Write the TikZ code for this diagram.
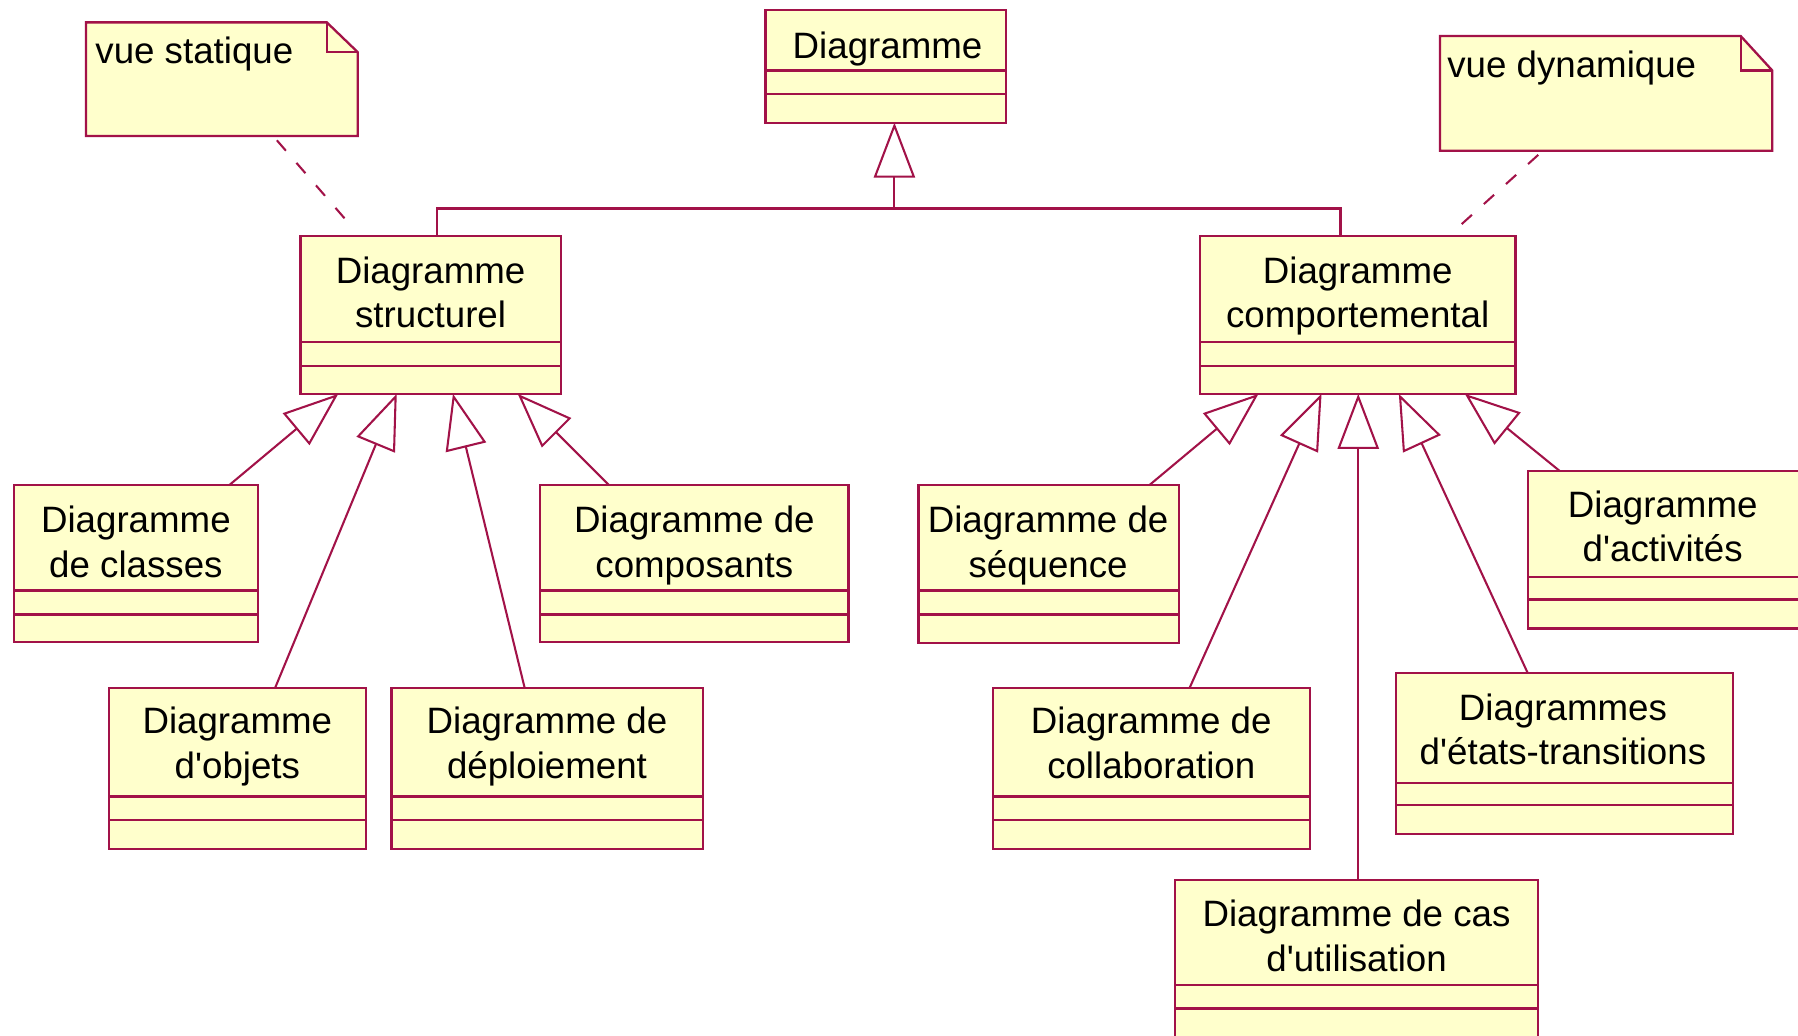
\documentclass[tikz,border=0pt]{standalone}
\usepackage{fontspec}
\newfontfamily\umlfont{Liberation Sans}
\usetikzlibrary{arrows.meta}
\definecolor{umlred}{RGB}{162,18,72}
\definecolor{umlfill}{RGB}{255,255,204}
% two centred lines whose first baseline is the node baseline
\newcommand\twolines[2]{\vtop{\halign{\hfil##\hfil\cr#1\cr#2\cr}}}
\newcommand\apos{\textquotesingle}
% attribute / operation separators of a class box
\newcommand\compartments[3]{%
  \draw[sepline] ([yshift=-#2pt]#1.north west) -- ([yshift=-#2pt]#1.north east);
  \draw[sepline] ([yshift=-#3pt]#1.north west) -- ([yshift=-#3pt]#1.north east);}

\begin{document}
\begin{tikzpicture}[x=1pt,y=-1pt,
  cls/.style={draw=umlred, fill=umlfill, line width=2pt, rectangle,
              inner sep=0pt, outer sep=0pt, anchor=north west},
  sepline/.style={draw=umlred, line width=2pt},
  lbl/.style={font=\umlfont\fontsize{32}{39}\selectfont, text=black,
              inner sep=0pt, anchor=base},
  notebox/.style={draw=none, fill=none, rectangle, inner sep=0pt,
              outer sep=0pt, anchor=north west},
  noteline/.style={draw=umlred, fill=umlfill, line width=2pt, line join=miter},
  gen/.style={draw=umlred, line width=1.8pt,
              -{Triangle[open, length=48pt, width=36pt]}},
  link/.style={draw=umlred, line width=2pt},
  noteanchor/.style={draw=umlred, line width=1.8pt, dash pattern=on 12pt off 14pt}]

\useasboundingbox (0,0) rectangle (1568,903);
\clip (0,0) rectangle (1568,903);
\fill[white] (0,0) rectangle (1568,903);

% ---------- class boxes ----------
\node[cls, minimum width=210pt,   minimum height=98.3pt]  (diag)   at (667.5,8.7)   {};
\node[cls, minimum width=227pt,   minimum height=137.5pt] (struct) at (262,206)     {};
\node[cls, minimum width=275pt,   minimum height=137.5pt] (behav)  at (1046.5,206)  {};
\node[cls, minimum width=212.5pt, minimum height=137pt]   (classes) at (12.5,423)   {};
\node[cls, minimum width=269pt,   minimum height=137pt]   (compo)  at (471,423)     {};
\node[cls, minimum width=224pt,   minimum height=140.7pt] (objets) at (95,599.7)    {};
\node[cls, minimum width=271.5pt, minimum height=140.7pt] (deploy) at (341.5,599.7) {};
\node[cls, minimum width=227pt,   minimum height=137.5pt] (seq)    at (801,423)     {};
\node[cls, minimum width=276.5pt, minimum height=140.7pt] (collab) at (866,599.7)   {};
\node[cls, minimum width=294pt,   minimum height=140pt]   (etats)  at (1217.4,587.2) {};
\node[cls, minimum width=250pt,   minimum height=137.5pt] (activ)  at (1332.4,410.5) {};
\node[cls, minimum width=316.3pt, minimum height=170pt]   (cas)    at (1024.7,767.4) {};

\compartments{diag}{52.9}{73}
\compartments{struct}{92.5}{113}
\compartments{behav}{92.5}{113}
\compartments{classes}{92}{113}
\compartments{compo}{92}{113}
\compartments{objets}{95}{115.3}
\compartments{deploy}{95}{115.3}
\compartments{seq}{92}{113}
\compartments{collab}{95}{115.3}
\compartments{etats}{95.4}{115.1}
\compartments{activ}{92.4}{112.2}
\compartments{cas}{91.6}{112}

% ---------- class names ----------
\node[lbl] (diag-t)    at (774,50.9)    {Diagramme};
\node[lbl] (struct-t)  at (375.5,247)   {\twolines{Diagramme}{structurel}};
\node[lbl] (behav-t)   at (1184,247)    {\twolines{Diagramme}{comportemental}};
\node[lbl] (classes-t) at (118.5,464.5) {\twolines{Diagramme}{de classes}};
\node[lbl] (compo-t)   at (605.5,464.5) {\twolines{Diagramme de}{composants}};
\node[lbl] (objets-t)  at (207,640)     {\twolines{Diagramme}{d\apos objets}};
\node[lbl] (deploy-t)  at (477,640)     {\twolines{Diagramme de}{déploiement}};
\node[lbl] (seq-t)     at (914,464.5)   {\twolines{Diagramme de}{séquence}};
\node[lbl] (collab-t)  at (1004,640)    {\twolines{Diagramme de}{collaboration}};
\node[lbl] (etats-t)   at (1363,628)    {\twolines{Diagrammes}{d\apos états-transitions}};
\node[lbl] (activ-t)   at (1450,451)    {\twolines{Diagramme}{d\apos activités}};
\node[lbl] (cas-t)     at (1183,808)    {\twolines{Diagramme de cas}{d\apos utilisation}};

% ---------- notes ----------
\node[notebox, minimum width=237pt, minimum height=99.1pt] (nstat) at (75,19.5) {};
\draw[noteline] (nstat.north west) -- ([xshift=-27pt]nstat.north east)
  -- ([yshift=-26pt]nstat.north east) -- (nstat.south east)
  -- (nstat.south west) -- cycle;
\draw[link] ([xshift=-27pt]nstat.north east) |- ([yshift=-26pt]nstat.north east);
\node[lbl, anchor=base west] (nstat-t) at (83,55.2) {vue statique};

\node[notebox, minimum width=289.7pt, minimum height=100pt] (ndyn) at (1255.8,31.4) {};
\draw[noteline] (ndyn.north west) -- ([xshift=-27.5pt]ndyn.north east)
  -- ([yshift=-30pt]ndyn.north east) -- (ndyn.south east)
  -- (ndyn.south west) -- cycle;
\draw[link] ([xshift=-27.5pt]ndyn.north east) |- ([yshift=-30pt]ndyn.north east);
\node[lbl, anchor=base west] (ndyn-t) at (1262,67.4) {vue dynamique};

\draw[noteanchor, shorten <=5pt, shorten >=16pt]
  ([xshift=163.2pt]nstat.south west) -- ([xshift=52pt]struct.north west);
\draw[noteanchor, shorten <=5.4pt, shorten >=13.4pt]
  ([xshift=89.7pt]ndyn.south west) -- ([xshift=216.5pt]behav.north west);

% ---------- generalisations ----------
\coordinate (junction) at (780,181.7);
\draw[link] ([xshift=119pt]struct.north west) |- (junction)
  -| ([xshift=122.5pt]behav.north west);
\draw[gen] (junction) -- ([xshift=112.5pt]diag.south west);

\draw[gen] ([xshift=187.5pt]classes.north west) -- ([xshift=33pt]struct.south west);
\draw[gen] ([xshift=145pt]objets.north west)    -- ([xshift=84pt]struct.south west);
\draw[gen] ([xshift=116pt]deploy.north west)    -- ([xshift=133pt]struct.south west);
\draw[gen] ([xshift=60pt]compo.north west)      -- ([xshift=189.5pt]struct.south west);

\draw[gen] ([xshift=201.4pt]seq.north west)     -- ([xshift=51pt]behav.south west);
\draw[gen] ([xshift=171.5pt]collab.north west)  -- ([xshift=106pt]behav.south west);
\draw[gen] ([xshift=159.8pt]cas.north west)     -- ([xshift=138pt]behav.south west);
\draw[gen] ([xshift=115pt]etats.north west)     -- ([xshift=173.4pt]behav.south west);
\draw[gen] ([xshift=27.5pt]activ.north west)    -- ([xshift=231pt]behav.south west);

\end{tikzpicture}
\end{document}
